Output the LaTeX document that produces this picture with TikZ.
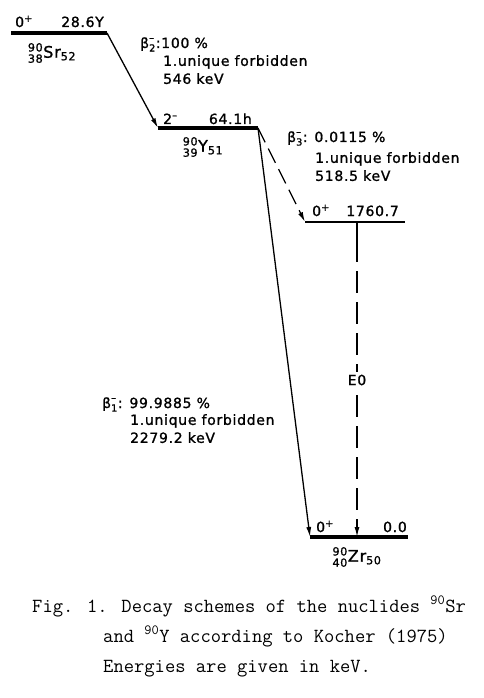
\documentclass[tikz,border=0pt]{standalone}
\usepackage{amsmath}
\usepackage{fontspec}
\newfontfamily\schemefont{DejaVu Sans}[LetterSpace=5, FakeBold=1.2]
\usetikzlibrary{arrows.meta}
\newcommand{\nuclide}[4]{$^{\text{#1}}_{\text{#2}}\text{#3}_{\text{#4}}$}
\newcommand{\betadecay}[1]{$\text{β}^{\text{–}}_{\text{#1}}$}

\begin{document}
\begin{tikzpicture}[x=1pt, y=-1pt,
    levelline/.style={line width=3.5pt},
    thinline/.style={line width=2pt},
    decay/.style={-{Latex[length=10pt,width=5pt]}, line width=1.3pt},
    levtext/.style={font=\schemefont\fontsize{14}{18}\selectfont, inner sep=0pt},
    info/.style={levtext, align=left, anchor=north west},
    nucl/.style={font=\schemefont\fontsize{16}{18}\selectfont, inner sep=0pt},
    figcaption/.style={font=\fontsize{20}{30}\selectfont\ttfamily, anchor=base west, inner sep=0pt}
]
\useasboundingbox (0,0) rectangle (483,698);

% level ends
\coordinate (sr-l) at (11,33);
\coordinate (sr-r) at (107,33);
\coordinate (y-l) at (158,128);
\coordinate (y-r) at (258,128);
\coordinate (zx-l) at (305,222);
\coordinate (zx-r) at (405,222);
\coordinate (zr-l) at (310,537);
\coordinate (zr-r) at (408,537);
\coordinate (e0-top) at (357,222);
\coordinate (e0-mid) at (357,240);
\coordinate (e0-end) at (357,537);

\draw[levelline] (sr-l) -- (sr-r);
\draw[levelline] (y-l) -- (y-r);
\draw[thinline] (zx-l) -- (zx-r);
\draw[levelline] (zr-l) -- (zr-r);

% transitions
\draw[decay] (sr-r) -- (y-l);
\draw[decay, dash pattern=on 16pt off 7pt] (y-r) -- (zx-l);
\draw[decay] (y-r) -- (zr-l);
\draw[line width=1.3pt] (e0-top) -- (e0-mid);
\draw[decay, dash pattern=on 22pt off 9pt] (e0-mid) -- (e0-end);
\node[levtext, fill=white, inner sep=3pt] (e0) at (357,380) {E0};

% level labels
\node[levtext, anchor=base west] (sr-spin) at (15,27) {0\textsuperscript{+}};
\node[levtext, anchor=base east] (sr-life) at (104,27) {28.6Y};
\node[nucl] (sr) at (52,53) {\nuclide{90}{38}{Sr}{52}};
\node[levtext, anchor=base west] (y-spin) at (163,124) {2\textsuperscript{–}};
\node[levtext, anchor=base east] (y-life) at (252,124) {64.1h};
\node[nucl] (y) at (203,147) {\nuclide{90}{39}{Y}{51}};
\node[levtext, anchor=base west] (zx-spin) at (312,216) {0\textsuperscript{+}};
\node[levtext, anchor=base east] (zx-energy) at (399,216) {1760.7};
\node[levtext, anchor=base west] (zr-spin) at (316,532) {0\textsuperscript{+}};
\node[levtext, anchor=base east] (zr-energy) at (407,532) {0.0};
\node[nucl] (zr) at (357,557) {\nuclide{90}{40}{Zr}{50}};

% decay branches
\node[levtext, anchor=base west] (b2) at (140,48) {\betadecay{2}:100 \%};
\node[info] (b2-info) at (163,55) {1.unique forbidden\\546 keV};
\node[levtext, anchor=base west] (b3) at (287,142) {\betadecay{3}: 0.0115 \%};
\node[info] (b3-info) at (315,152) {1.unique forbidden\\518.5 keV};
\node[levtext, anchor=base west] (b1) at (102,408) {\betadecay{1}: 99.9885 \%};
\node[info] (b1-info) at (130,414) {1.unique forbidden\\2279.2 keV};

% caption
\node[figcaption] (cap1) at (32,612) {Fig. 1. Decay schemes of the nuclides \textsuperscript{90}Sr};
\node[figcaption] (cap2) at (103,642) {and \textsuperscript{90}Y according to Kocher (1975)};
\node[figcaption] (cap3) at (103,672) {Energies are given in keV.};
\end{tikzpicture}
\end{document}
